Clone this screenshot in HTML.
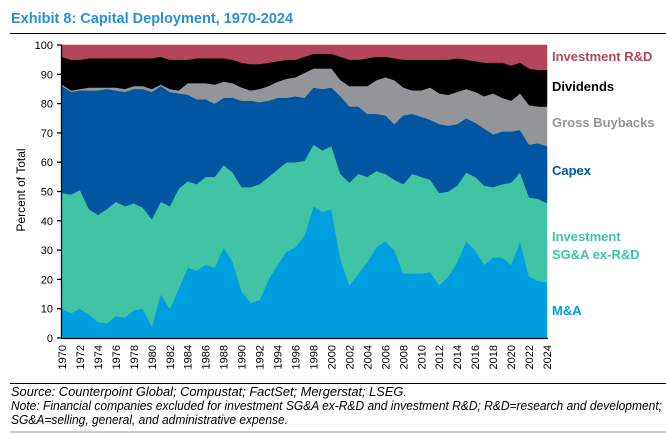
<!DOCTYPE html>
<html><head><meta charset="utf-8"><style>
body{margin:0;background:#fff;width:666px;height:434px;overflow:hidden;font-family:"Liberation Sans",sans-serif}
svg{display:block}
</style></head><body>
<svg width="666" height="434" xmlns="http://www.w3.org/2000/svg">
<text x="11" y="23" font-size="14.5" font-weight="bold" fill="#2b8fd6">Exhibit 8: Capital Deployment, 1970-2024</text>
<line x1="10" y1="33.5" x2="666" y2="33.5" stroke="#000" stroke-width="1"/>
<g id="plot"></g>
<g id="axes"></g>
<text transform="translate(25,190) rotate(-90)" text-anchor="middle" font-size="12" fill="#000">Percent of Total</text>
<g font-size="13" font-weight="bold">
<text x="552" y="61" fill="#b4455b">Investment R&amp;D</text>
<text x="552" y="91" fill="#000">Dividends</text>
<text x="552" y="127" fill="#939598">Gross Buybacks</text>
<text x="552" y="175" fill="#0056a0">Capex</text>
<text x="552" y="241" fill="#40c4a4">Investment</text>
<text x="552" y="259" fill="#40c4a4">SG&amp;A ex-R&amp;D</text>
<text x="552" y="315" fill="#009fe0">M&amp;A</text>
</g>
<line x1="10" y1="383.5" x2="666" y2="383.5" stroke="#000" stroke-width="1"/>
<g font-size="12.5" font-style="italic" fill="#000">
<text x="11" y="396" textLength="396" lengthAdjust="spacingAndGlyphs">Source: Counterpoint Global; Compustat; FactSet; Mergerstat; LSEG.</text>
<text x="11" y="410" textLength="651" lengthAdjust="spacingAndGlyphs">Note: Financial companies excluded for investment SG&amp;A ex-R&amp;D and investment R&amp;D; R&amp;D=research and development;</text>
<text x="11" y="424" textLength="277" lengthAdjust="spacingAndGlyphs">SG&amp;A=selling, general, and administrative expense.</text>
</g>
<line x1="10" y1="432" x2="666" y2="432" stroke="#999" stroke-width="1"/>
</svg>
<script>
const years=[];for(let y=1970;y<=2024;y++)years.push(y);
const ma=[10,8.5,10,8,5.5,5,7.5,7,9.5,10,4,15,10,17,24,23,25,24,31,26,16,12,13,20,25,29.5,31,35,45,43,44,27,18,22,26,31,33,30,22,22,22,22.5,18,21,26,33,30,25,27.5,27.5,25,33,21,19.5,19];
const sga=[39.5,40.5,40.5,36,36.5,39,39,38,36.5,34.5,36.5,31.5,35,34,29.5,29.5,30,31,28,30.5,35.5,39.5,39.5,35,32.5,30.5,29,25.5,21,21,21.5,29,35,34,29,26,23,24,30.5,34,33,31.5,31.5,29,26,23.5,25,27,24,25,28,23.5,27,28,27];
const capex=[36.5,35,34,40.5,42.5,41,38,39,39,40.5,43.5,39.5,39,32.5,29.5,29,26.5,25,23,25.5,29.5,29.5,28,26,24.5,22,22.5,21.5,19.5,21,20,26.5,26,23,21.5,19.5,20,19,23.5,20.5,20.5,20.5,23.5,22.5,21,18.5,18.5,19.5,18,18,17.5,14.5,18,19,19.5];
const buybacks=[0.5,0.5,0.5,1,1,0.5,1,1,1,1,1,0.5,1,1,4,5.5,5.5,6.5,5.5,5,4.5,3.5,4.5,5,5.5,6.5,6.5,8.5,6.5,7,6.5,5.5,7,7,9.5,11.5,13,15,9.5,8,9,11,10.5,10.5,11,10,10.5,11,14,11.5,10.5,12.5,13.5,12.5,13.5];
const dividends=[9.5,10.5,10,10,10,10,10,10.5,9.5,9.5,10.5,9.5,10,10.5,8,8.5,8.5,9,8,8,8.5,9,8.5,8,7,6.5,6,5.5,5,5,5,8,9,9,9.5,8,7,7.5,9.5,10.5,10.5,9.5,11.5,12,11.5,10,10.5,11.5,10.5,12,12,10.5,12.5,12.5,12.5];
const rd=[4,5,5,4.5,4.5,4.5,4.5,4.5,4.5,4.5,4.5,4,5,5,5,4.5,4.5,4.5,4.5,5,6,6.5,6.5,6,5.5,5,5,4,3,3,3,4,5,5,4.5,4,4,4.5,5,5,5,5,5,5,4.5,5,5.5,6,6,6,7,6,8,8.5,8.5];
const yTicks=[0,10,20,30,40,50,60,70,80,90,100];
const seriesList=[["ma",ma,"#009fe0"],["sga",sga,"#40c4a4"],["capex",capex,"#0056a0"],["buybacks",buybacks,"#939598"],["dividends",dividends,"#000000"],["rd",rd,"#b4455b"]];
const X0=62,X1=547,Y0=338,Y1=45;
const xs=i=>X0+(X1-X0)*i/(years.length-1);
const ys=v=>Y0-(Y0-Y1)*v/100;
const NS="http://www.w3.org/2000/svg";
const plot=document.getElementById('plot'),axes=document.getElementById('axes');
let base=years.map(()=>0);
seriesList.forEach(([name,vals,col])=>{
  const top=base.map((b,i)=>b+vals[i]);
  let d="";
  top.forEach((t,i)=>{d+=(i?"L":"M")+xs(i).toFixed(2)+","+ys(t).toFixed(2);});
  for(let i=years.length-1;i>=0;i--)d+="L"+xs(i).toFixed(2)+","+ys(base[i]).toFixed(2);
  d+="Z";
  const p=document.createElementNS(NS,'path');
  p.setAttribute('d',d);p.setAttribute('fill',col);
  p.setAttribute('stroke',col);p.setAttribute('stroke-width','0.5');
  
  
  plot.appendChild(p);
  base=top;
});
function ln(x1,y1,x2,y2,name){const l=document.createElementNS(NS,'line');l.setAttribute('x1',x1);l.setAttribute('y1',y1);l.setAttribute('x2',x2);l.setAttribute('y2',y2);l.setAttribute('stroke','#000');l.setAttribute('stroke-width','1.3');


axes.appendChild(l);}
ln(X0-0.5,Y1,X0-0.5,Y0+0.5,'y-axis-line');
ln(X0-1,Y0+0.5,X1+1,Y0+0.5,'x-axis-line');
yTicks.forEach(v=>{
  ln(X0-5,ys(v),X0,ys(v),'y-tick');
  const t=document.createElementNS(NS,'text');
  t.setAttribute('x',X0-9);t.setAttribute('y',ys(v)+4);t.setAttribute('text-anchor','end');t.setAttribute('font-size','11');
  t.textContent=v;
  
  
  axes.appendChild(t);
});
years.forEach((y,i)=>{
  if(y%2)return;
  const t=document.createElementNS(NS,'text');
  t.setAttribute('transform','translate('+(xs(i)+4)+','+(Y0+7)+') rotate(-90)');
  t.setAttribute('text-anchor','end');t.setAttribute('font-size','11');
  t.textContent=y;
  
  
  axes.appendChild(t);
});
</script>
</body></html>
